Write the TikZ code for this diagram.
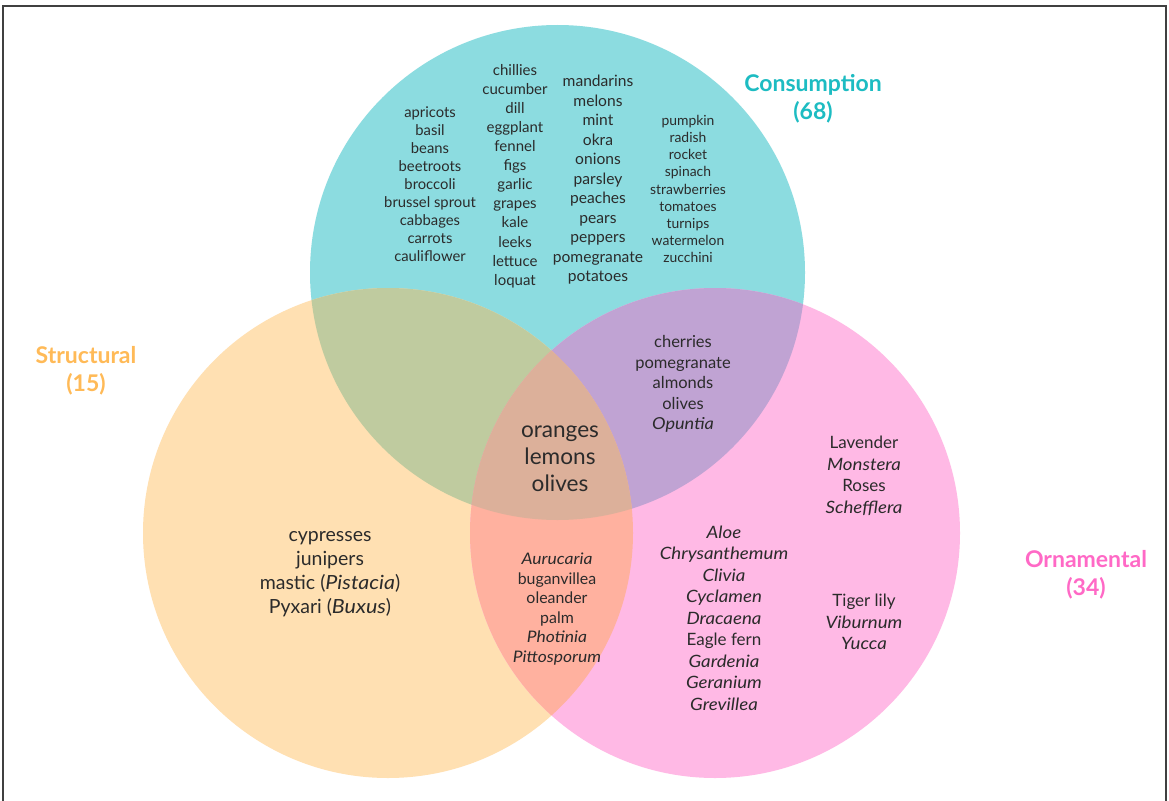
\documentclass[tikz,border=0pt]{standalone}
\usepackage{fontspec}
\setmainfont{Lato}[ItalicFeatures={FakeStretch=1.1}]
\definecolor{cyanc}{HTML}{8CDCE0}
\definecolor{orangec}{HTML}{FFE0B2}
\definecolor{pinkc}{HTML}{FFB9E5}
\definecolor{coc}{HTML}{BFCB9F}
\definecolor{cpc}{HTML}{C0A3D3}
\definecolor{opc}{HTML}{FFB19F}
\definecolor{allc}{HTML}{DCB09A}
\definecolor{txt}{HTML}{2B2B2B}
\definecolor{consc}{HTML}{1DBCC2}
\definecolor{strc}{HTML}{FFBA57}
\definecolor{ornc}{HTML}{FF69C6}
\tikzset{
  words/.style={align=center, text=txt, inner sep=0pt},
  setlabel/.style={align=center, font=\bfseries\fontsize{23bp}{28bp}\selectfont, inner sep=0pt},
}
\newcommand{\fs}[2]{\fontsize{#1bp}{#2bp}\selectfont}
\begin{document}
\begin{tikzpicture}[x=1bp,y=-1bp]
\useasboundingbox (0,0) rectangle (1169,801);
\fill[white] (0,0) rectangle (1169,801);
% frame
\draw[line width=1.3bp, black!75] (3,801) -- (3,6) -- (1166,6) -- (1166,801);
% circles
\def\cyancirc{(557.5,272.5) circle (247.5)}
\def\orangecirc{(388,533) circle (245)}
\def\pinkcirc{(715,533) circle (245)}
\fill[cyanc] \cyancirc;
\fill[orangec] \orangecirc;
\fill[pinkc] \pinkcirc;
\begin{scope}\clip \cyancirc; \fill[coc] \orangecirc; \end{scope}
\begin{scope}\clip \cyancirc; \fill[cpc] \pinkcirc; \end{scope}
\begin{scope}\clip \orangecirc; \fill[opc] \pinkcirc; \end{scope}
\begin{scope}\clip \cyancirc; \clip \orangecirc; \fill[allc] \pinkcirc; \end{scope}
% set labels
\node[setlabel, text=consc] (cons) at (813,99) {Consumption\\(68)};
\node[setlabel, text=strc] (str) at (86,371) {Structural\\(15)};
\node[setlabel, text=ornc] (orn) at (1086,575) {Ornamental\\(34)};
% consumption only
\node[words, font=\fs{14.8}{18}] (c1) at (430,184) {apricots\\basil\\beans\\beetroots\\broccoli\\brussel sprout\\cabbages\\carrots\\cauliflower};
\node[words, font=\fs{15}{19.1}] (c2) at (515,176) {chillies\\cucumber\\dill\\eggplant\\fennel\\figs\\garlic\\grapes\\kale\\leeks\\lettuce\\loquat};
\node[words, font=\fs{15.6}{19.5}] (c3) at (598,180) {mandarins\\melons\\mint\\okra\\onions\\parsley\\peaches\\pears\\peppers\\pomegranate\\potatoes};
\node[words, font=\fs{13.9}{17.1}] (c4) at (688,189) {pumpkin\\radish\\rocket\\spinach\\strawberries\\tomatoes\\turnips\\watermelon\\zucchini};
% triple
\node[words, font=\fs{22.6}{27}] (all) at (560,459) {oranges\\lemons\\olives};
% consumption & ornamental
\node[words, font=\fs{16.5}{20.5}] (cp) at (683,384) {cherries\\pomegranate\\almonds\\olives\\\textit{Opuntia}};
% structural & ornamental
\node[words, font=\fs{15.9}{19.6}] (op) at (557,609) {\textit{Aurucaria}\\buganvillea\\oleander\\palm\\\textit{Photinia}\\\textit{Pittosporum}};
% structural only
\node[words, font=\fs{19.5}{24}] (s1) at (330,574) {cypresses\\junipers\\mastic (\textit{Pistacia})\\Pyxari (\textit{Buxus})};
% ornamental only
\node[words, font=\fs{17}{21.5}] (o1) at (724,618) {\textit{Aloe}\\\textit{Chrysanthemum}\\\textit{Clivia}\\\textit{Cyclamen}\\\textit{Dracaena}\\Eagle fern\\\textit{Gardenia}\\\textit{Geranium}\\\textit{Grevillea}};
\node[words, font=\fs{17}{21.5}] (o2) at (864,476) {Lavender\\\textit{Monstera}\\Roses\\\textit{Schefflera}};
\node[words, font=\fs{17}{21.5}] (o3) at (864,622) {Tiger lily\\\textit{Viburnum}\\\textit{Yucca}};
\end{tikzpicture}
\end{document}
